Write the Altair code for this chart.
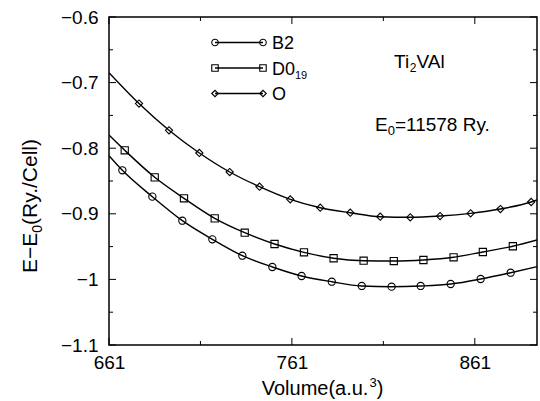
import altair as alt
import pandas as pd

# ---------------- data ----------------
series_names = ["B2", "D0", "O"]

vol_b2 = [668.3, 684.7, 701.1, 717.5, 733.9, 750.3, 766.3, 782.8, 799.2, 815.5, 831.4, 847.8, 864.2, 880.6]
e_b2 = [-0.8337, -0.8739, -0.9105, -0.9389, -0.9639, -0.9811, -0.9948, -1.0035, -1.0100, -1.0111, -1.0100, -1.0070, -0.9994, -0.9898]

vol_d0 = [669.6, 686.0, 702.0, 718.8, 735.2, 751.5, 767.6, 783.8, 800.2, 816.7, 832.9, 849.4, 865.4, 881.8]
e_d0 = [-0.8032, -0.8444, -0.8764, -0.9069, -0.9288, -0.9460, -0.9587, -0.9678, -0.9715, -0.9720, -0.9704, -0.9663, -0.9582, -0.9495]

vol_o = [677.4, 693.8, 710.4, 727.0, 743.3, 760.1, 776.5, 792.9, 809.3, 825.7, 842.0, 858.7, 875.0, 891.8]
e_o = [-0.7320, -0.7727, -0.8073, -0.8363, -0.8587, -0.8780, -0.8907, -0.8983, -0.9044, -0.9053, -0.9034, -0.8993, -0.8927, -0.8820]

# fitted curves reach the frame edges: values read at the left / right edge
edge_vol = [661, 895]
edge_b2 = [-0.8114, -0.9806]
edge_d0 = [-0.7800, -0.9400]
edge_o = [-0.6850, -0.8790]

x_major = [661, 761, 861]
x_minor = [711, 811]
y_major = [-0.6, -0.7, -0.8, -0.9, -1.0, -1.1]
y_minor = [-0.65, -0.75, -0.85, -0.95, -1.05]

# ---------------- tables ----------------
markers = pd.concat([
    pd.DataFrame({"s": "B2", "v": vol_b2, "e": e_b2}),
    pd.DataFrame({"s": "D0", "v": vol_d0, "e": e_d0}),
    pd.DataFrame({"s": "O", "v": vol_o, "e": e_o}),
], ignore_index=True)

curves = pd.concat([
    pd.DataFrame({"s": "B2", "v": [edge_vol[0]] + vol_b2 + [edge_vol[1]], "e": [edge_b2[0]] + e_b2 + [edge_b2[1]]}),
    pd.DataFrame({"s": "D0", "v": [edge_vol[0]] + vol_d0 + [edge_vol[1]], "e": [edge_d0[0]] + e_d0 + [edge_d0[1]]}),
    pd.DataFrame({"s": "O", "v": [edge_vol[0]] + vol_o + [edge_vol[1]], "e": [edge_o[0]] + e_o + [edge_o[1]]}),
], ignore_index=True)

W, H = 428, 328
FONT = "Liberation Sans"
xs = alt.Scale(domain=[661, 895], nice=False, zero=False)
ys = alt.Scale(domain=[-1.1, -0.6], nice=False, zero=False)
shape_scale = alt.Scale(domain=series_names, range=["circle", "square", "diamond"])

xaxis = alt.Axis(values=x_major, format="d", labelFontSize=19, labelFont=FONT,
                 labelColor="black", ticks=False, domain=False, grid=False,
                 labelPadding=8, labelFlush=False, title=None)
yaxis = alt.Axis(values=y_major, format="~g", labelFontSize=19, labelFont=FONT,
                 labelColor="black", ticks=False, domain=False, grid=False,
                 labelPadding=11, labelFlush=False, title=None)

# Arial / Liberation Sans advance widths (per em)
AW = {" ": .278, "(": .333, ")": .333, ".": .278, "/": .278, "=": .584, "\u2212": .584,
      "A": .667, "B": .667, "C": .722, "D": .722, "E": .667, "O": .778, "R": .722, "T": .611, "V": .667,
      "a": .556, "e": .556, "i": .222, "l": .222, "m": .833, "o": .556, "u": .556, "y": .5}


def tw(s, fs):
    return sum(AW.get(c, .556) for c in s) * fs


one = pd.DataFrame({"k": [0]})


def txt(text, x, y, fs, angle=0, align="left", baseline="alphabetic"):
    kw = dict(text=text, font=FONT, fontSize=fs, color="black", align=align, baseline=baseline)
    if angle:
        kw["angle"] = angle
    return alt.Chart(one).mark_text(**kw).encode(x=alt.value(x), y=alt.value(y))


curve_layer = alt.Chart(curves).mark_line(color="black", strokeWidth=1.4, interpolate="monotone", clip=True).encode(
    x=alt.X("v:Q", scale=xs, axis=xaxis),
    y=alt.Y("e:Q", scale=ys, axis=yaxis),
    detail="s:N",
)

marker_layer = alt.Chart(markers).mark_point(filled=False, color="black", strokeWidth=1.1, size=52, opacity=1).encode(
    x=alt.X("v:Q", scale=xs, axis=xaxis),
    y=alt.Y("e:Q", scale=ys, axis=yaxis),
    shape=alt.Shape("s:N", scale=shape_scale, legend=None),
)

# inward ticks on all four sides
xt_maj = pd.DataFrame({"v": x_major})
xt_min = pd.DataFrame({"v": x_minor})
yt_maj = pd.DataFrame({"e": y_major})
yt_min = pd.DataFrame({"e": y_minor})


def xticks(df, length):
    b = alt.Chart(df).mark_rule(color="black", strokeWidth=1).encode(
        x=alt.X("v:Q", scale=xs, axis=xaxis), y=alt.value(H), y2=alt.value(H - length))
    t = alt.Chart(df).mark_rule(color="black", strokeWidth=1).encode(
        x=alt.X("v:Q", scale=xs, axis=xaxis), y=alt.value(0), y2=alt.value(length))
    return [b, t]


def yticks(df, length):
    l = alt.Chart(df).mark_rule(color="black", strokeWidth=1).encode(
        y=alt.Y("e:Q", scale=ys, axis=yaxis), x=alt.value(0), x2=alt.value(length))
    r = alt.Chart(df).mark_rule(color="black", strokeWidth=1).encode(
        y=alt.Y("e:Q", scale=ys, axis=yaxis), x=alt.value(W), x2=alt.value(W - length))
    return [l, r]


tick_layers = xticks(xt_maj, 7) + xticks(xt_min, 4) + yticks(yt_maj, 7) + yticks(yt_min, 4)

# ---------------- legend (inside the plot) ----------------
leg_rows = [25.5, 51.0, 76.5]
leg_x0, leg_x1, leg_tx = 106, 154, 163
leg_shapes = ["circle", "square", "diamond"]
legend_layers = []
for i, name in enumerate(series_names):
    yy = leg_rows[i]
    legend_layers.append(alt.Chart(one).mark_rule(color="black", strokeWidth=1.4).encode(
        x=alt.value(leg_x0), x2=alt.value(leg_x1), y=alt.value(yy)))
    for xx in (leg_x0, leg_x1):
        legend_layers.append(alt.Chart(one).mark_point(shape=leg_shapes[i], filled=False, color="black",
                                                       strokeWidth=1.1, size=42, opacity=1).encode(
            x=alt.value(xx), y=alt.value(yy)))
leg_fs = 18
legend_layers.append(txt("B2", leg_tx, leg_rows[0] + 6.5, leg_fs))
legend_layers.append(txt("D0", leg_tx, leg_rows[1] + 6.5, leg_fs))
legend_layers.append(txt("19", leg_tx + tw("D0", leg_fs), leg_rows[1] + 10.5, 11))
legend_layers.append(txt("O", leg_tx, leg_rows[2] + 6.5, leg_fs))

# ---------------- annotations ----------------
ann = []
fs = 19
x0, base = 285, 50.7
ann.append(txt("Ti", x0, base, fs))
x1 = x0 + tw("Ti", fs)
ann.append(txt("2", x1, base + 4, 12))
ann.append(txt("VAl", x1 + tw("2", 12), base, fs))

x0, base = 266, 113.5
ann.append(txt("E", x0, base, fs))
x1 = x0 + tw("E", fs)
ann.append(txt("0", x1, base + 4, 13))
ann.append(txt("=11578 Ry.", x1 + tw("0", 13), base, fs))

# x axis title with superscript
xf = 20
x0, base = 152.7, 378
ann.append(txt("Volume(a.u.", x0, base, xf))
x1 = x0 + tw("Volume(a.u.", xf)
ann.append(txt("3", x1, base - 8, 13))
ann.append(txt(")", x1 + tw("3", 13), base, xf))

# y axis title (rotated) with subscript
yf = 21
bx, y0 = -72, 256
ann.append(txt("E\u2212E", bx, y0, yf, angle=270))
y1 = y0 - tw("E\u2212E", yf)
ann.append(txt("0", bx + 5, y1, 14, angle=270))
ann.append(txt("(Ry./Cell)", bx, y1 - tw("0", 14), yf, angle=270))

chart = alt.layer(curve_layer, marker_layer, *tick_layers, *legend_layers, *ann).properties(
    width=W, height=H,
    padding={"left": 109, "top": 17, "right": 3, "bottom": 56},
    autosize=alt.AutoSizeParams(type="none"),
    background="white",
).configure_view(stroke="black", strokeWidth=1.5).configure_axis(labelFont=FONT)

chart.save("out.html", embed_options={"renderer": "svg", "actions": False})
